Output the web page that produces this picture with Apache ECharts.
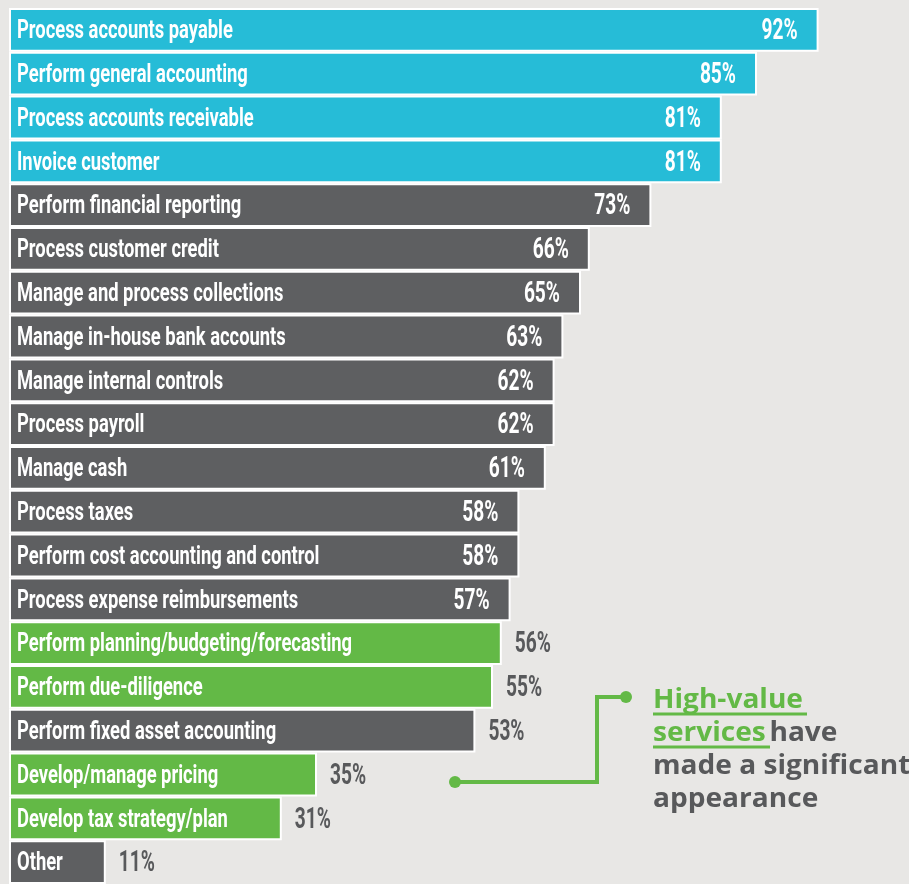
<!DOCTYPE html>
<html><head><meta charset="utf-8">
<script src="https://cdn.jsdelivr.net/npm/echarts@6/dist/echarts.min.js"></script>
<style>html,body{margin:0;padding:0;background:#e8e7e5}#c{width:909px;height:884px}</style>
</head><body><div id="c"></div>
<script>
const categories = [
  "Process accounts payable","Perform general accounting","Process accounts receivable","Invoice customer",
  "Perform financial reporting","Process customer credit","Manage and process collections","Manage in-house bank accounts",
  "Manage internal controls","Process payroll","Manage cash","Process taxes","Perform cost accounting and control",
  "Process expense reimbursements","Perform planning/budgeting/forecasting","Perform due-diligence",
  "Perform fixed asset accounting","Develop/manage pricing","Develop tax strategy/plan","Other"
];
const values = [92,85,81,81,73,66,65,63,62,62,61,58,58,57,56,55,53,35,31,11];
const groups = ["core","core","core","core","other","other","other","other","other","other","other","other","other","other",
  "high","high","other","high","high","other"];
const noteLines = ["High-value", "services", "have", "made a significant", "appearance"];

const COLORS = {core:"#26bcd7", other:"#5e5f61", high:"#63b946"};
const GRAY_TXT = "#58595b";
const FONT = "Roboto, 'DejaVu Sans Condensed', sans-serif";
const INSIDE_MIN = 57;
const CAT_SCALE = 0.735, VAL_SCALE = 0.66;

const chart = echarts.init(document.getElementById('c'));
const barData = values.map((v,i)=>({value: v, itemStyle: {color: COLORS[groups[i]]}}));
const labelData = values.map((v,i)=>[v, i]);
const green = COLORS.high;

function renderLabels(params, api){
  const i = params.dataIndex;
  const v = api.value(0);
  const start = api.coord([0, i]);
  const end = api.coord([v, i]);
  const inside = v >= INSIDE_MIN;
  return {type:'group', children:[
    {type:'text', x: start[0] + 8, y: start[1] + 2, scaleX: CAT_SCALE,
      style:{text: categories[i], fill:'#fff', font: 'bold 25px ' + FONT, align:'left', verticalAlign:'middle'}},
    {type:'text', x: inside ? end[0] - 21 : end[0] + 13, y: end[1] + 2, scaleX: VAL_SCALE,
      style:{text: v + '%', fill: inside ? '#fff' : GRAY_TXT, font: 'bold 29px ' + FONT,
        align: inside ? 'right' : 'left', verticalAlign:'middle'}}
  ]};
}

chart.setOption({
  backgroundColor: '#e8e7e5',
  animation: false,
  grid: {left: 9, top: 8, width: 880, height: 877},
  xAxis: {type:'value', min:0, max:100, show:false},
  yAxis: {type:'category', data: categories, inverse:true, show:false},
  series: [{
    type:'bar', data: barData, barCategoryGap:'0%',
    itemStyle:{borderColor:'#fff', borderWidth:2}
  },{
    type:'custom', data: labelData, encode:{x:0, y:1}, z: 5, renderItem: renderLabels
  }],
  graphic: [
    {type:'polyline', shape:{points:[[455,782],[597,782],[597,697],[626,697]]}, style:{stroke:green, lineWidth:4, fill:null}},
    {type:'circle', shape:{cx:455, cy:782, r:6}, style:{fill:green}},
    {type:'circle', shape:{cx:626, cy:697, r:6}, style:{fill:green}},
    {type:'text', x:653, y:684, scaleX:1.08, style:{
      text: '{g|'+noteLines[0]+'}\n{g|'+noteLines[1]+'} {d|'+noteLines[2]+'}\n{d|'+noteLines[3]+'}\n{d|'+noteLines[4]+'}',
      rich:{
        g:{fill:green, fontFamily:"'Open Sans',sans-serif", fontWeight:'bold', fontSize:26, lineHeight:33},
        d:{fill:GRAY_TXT, fontFamily:"'Open Sans',sans-serif", fontWeight:'bold', fontSize:26, lineHeight:33}
      }
    }},
    {type:'line', shape:{x1:653, y1:714, x2:807, y2:714}, style:{stroke:green, lineWidth:3}},
    {type:'line', shape:{x1:653, y1:747, x2:770, y2:747}, style:{stroke:green, lineWidth:3}}
  ]
});
</script></body></html>
